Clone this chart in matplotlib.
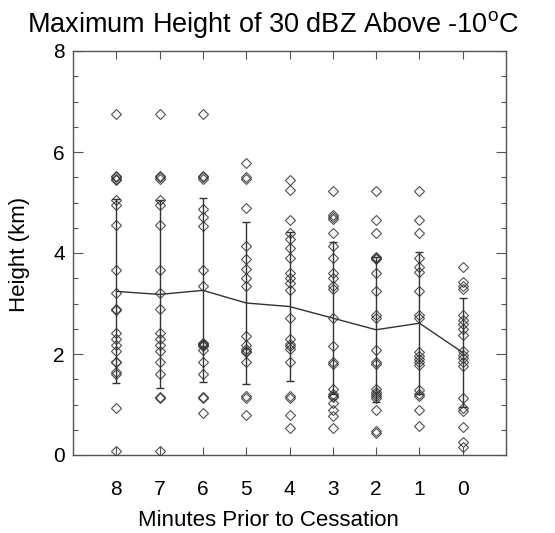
import matplotlib
matplotlib.use("Agg")
import matplotlib.pyplot as plt
from matplotlib.ticker import MultipleLocator

plt.rcParams['font.family'] = ['Liberation Sans', 'DejaVu Sans']
plt.rcParams['mathtext.fontset'] = 'custom'
plt.rcParams['mathtext.rm'] = 'Liberation Sans'

minutes = [8, 7, 6, 5, 4, 3, 2, 1, 0]

heights = {
    8: [6.75, 5.52, 5.50, 5.47, 5.45, 5.05, 4.95, 4.55, 3.67, 3.20, 2.90, 2.88,
        2.42, 2.30, 2.17, 2.05, 1.85, 1.85, 1.65, 1.60, 0.93, 0.08],
    7: [6.75, 5.52, 5.50, 5.47, 5.05, 4.95, 4.55, 3.67, 3.20, 2.90, 2.42, 2.30,
        2.17, 2.05, 1.85, 1.60, 1.15, 1.13, 0.08],
    6: [6.75, 5.52, 5.50, 5.47, 4.88, 4.72, 4.53, 3.66, 3.35, 2.22, 2.20, 2.17,
        2.15, 2.08, 1.85, 1.60, 1.15, 1.13, 0.83],
    5: [5.78, 5.50, 5.46, 4.90, 4.13, 3.89, 3.69, 3.50, 3.34, 2.35, 2.17, 2.10,
        2.06, 2.03, 1.85, 1.16, 1.13, 0.79],
    4: [5.45, 5.24, 4.65, 4.40, 4.27, 4.10, 3.90, 3.61, 3.50, 3.40, 3.26, 2.71,
        2.30, 2.20, 2.15, 2.10, 1.85, 1.16, 1.13, 0.80, 0.54],
    3: [5.23, 4.76, 4.72, 4.68, 4.40, 4.13, 3.90, 3.61, 3.50, 3.35, 3.28, 2.71,
        2.15, 1.85, 1.80, 1.30, 1.20, 1.17, 1.14, 1.03, 0.90, 0.78, 0.54],
    2: [5.23, 4.65, 4.40, 3.92, 3.90, 3.88, 3.60, 3.24, 2.78, 2.71, 2.08, 1.85,
        1.80, 1.30, 1.25, 1.20, 1.16, 1.13, 0.90, 0.48, 0.44],
    1: [5.23, 4.65, 4.40, 3.90, 3.72, 3.62, 3.25, 2.78, 2.71, 2.04, 1.97, 1.90,
        1.84, 1.78, 1.29, 1.20, 1.16, 0.90, 0.57],
    0: [3.73, 3.42, 3.35, 3.28, 2.78, 2.68, 2.59, 2.49, 2.38, 2.05, 1.99, 1.92,
        1.84, 1.77, 1.12, 0.93, 0.88, 0.56, 0.25, 0.15],
}

mean_height = [3.24, 3.18, 3.26, 3.01, 2.94, 2.71, 2.48, 2.61, 2.03]
std_height = [1.82, 1.86, 1.82, 1.60, 1.48, 1.50, 1.44, 1.41, 1.08]

title = "Maximum Height of 30 dBZ Above -10$^{\\mathrm{o}}$C"
xlabel = "Minutes Prior to Cessation"
ylabel = "Height (km)"

fig = plt.figure(figsize=(5.55, 5.33), dpi=100)
ax = fig.add_axes([73/555, 1-455/533, (506-73)/555, (455-51)/533])

ink = '#333333'
for m in minutes:
    ys = heights[m]
    ax.plot([m]*len(ys), ys, linestyle='none', marker='D', markersize=4.7,
            markerfacecolor='none', markeredgecolor=ink, markeredgewidth=0.8,
            alpha=0.85, zorder=3)

ax.errorbar(minutes, mean_height, yerr=std_height, color=ink, linewidth=1.0,
            elinewidth=1.0, capsize=2.6, capthick=1.0, zorder=2)

ax.set_xlim(9, -1)
ax.set_ylim(0, 8)
ax.set_xticks(minutes)
ax.set_xticklabels([str(m) for m in minutes])
ax.set_yticks([0, 2, 4, 6, 8])
ax.yaxis.set_minor_locator(MultipleLocator(0.5))

for s in ax.spines.values():
    s.set_color('#555555')
    s.set_linewidth(1.0)

ax.tick_params(axis='x', which='major', direction='in', top=True, bottom=True,
               length=6, width=0.8, color='#555555', labelsize=15, pad=18)
ax.tick_params(axis='y', which='major', direction='in', left=True, right=True,
               length=7, width=0.8, color='#555555', labelsize=15, pad=6)
ax.tick_params(axis='y', which='minor', direction='in', left=True, right=True,
               length=3.5, width=0.8, color='#555555')

fig.text(272.5/555, 1-32/533, title, fontsize=19.5, ha='center', va='baseline')
fig.text(268/555, 1-521/533, xlabel, fontsize=16, ha='center', va='center')
fig.text(20/555, 1-254/533, ylabel, fontsize=16, ha='center', va='center',
         rotation=90)

fig.savefig("out.png", dpi=100)
